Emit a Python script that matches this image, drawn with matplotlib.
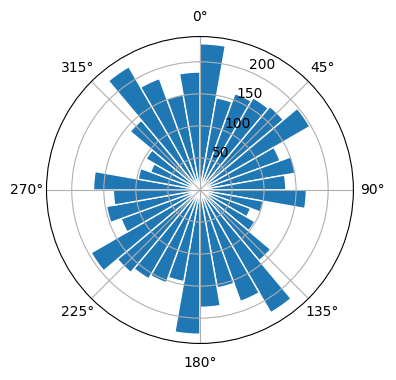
import numpy as np
import matplotlib
matplotlib.use("Agg")
import matplotlib.pyplot as plt

# counts per 10-degree sector, clockwise from north
bin_deg = 10
counts = [228, 146, 160, 166, 170, 198, 133, 151, 134,
          166, 100, 84, 99, 144, 221, 185, 155, 183,
          225, 145, 154, 160, 168, 196, 131, 148, 135,
          166, 98, 82, 97, 142, 222, 185, 151, 184]

theta = np.deg2rad(np.arange(0, 360, bin_deg))
width = np.deg2rad(bin_deg)

fig = plt.figure(figsize=(3.96, 3.8), dpi=100)
ax = fig.add_axes([0.1174, 0.096, 0.775, 0.808], projection="polar")
ax.set_theta_zero_location("N")
ax.set_theta_direction(-1)

ax.bar(theta, counts, width=width, align="edge", edgecolor="white")

fig.savefig("out.png", dpi=100)
